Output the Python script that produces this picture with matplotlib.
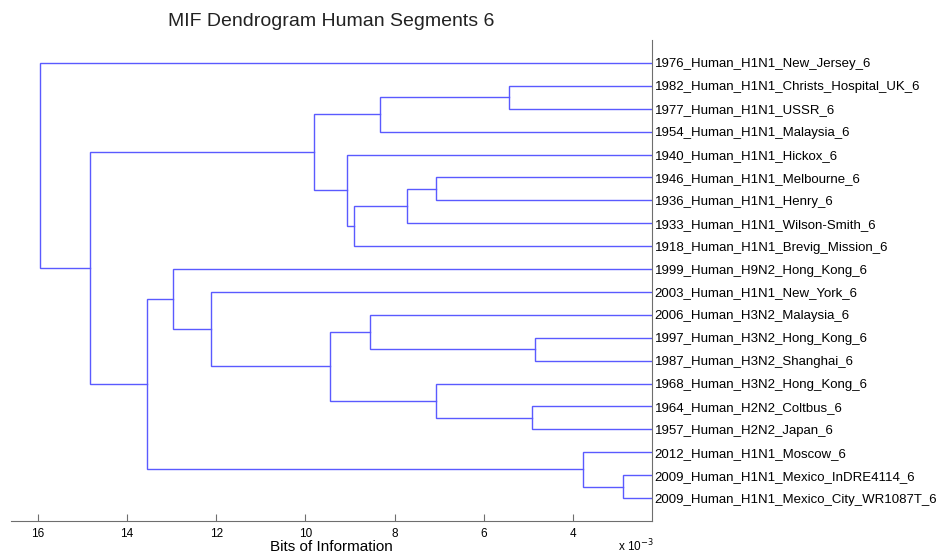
import matplotlib
matplotlib.use("Agg")
import matplotlib.pyplot as plt
from matplotlib.ticker import FixedLocator, FuncFormatter

plt.rcParams["font.family"] = ["Liberation Sans", "DejaVu Sans"]

# ── Data ──────────────────────────────────────────────────────────────────────
LEAVES = [
    "1976_Human_H1N1_New_Jersey_6",
    "1982_Human_H1N1_Christs_Hospital_UK_6",
    "1977_Human_H1N1_USSR_6",
    "1954_Human_H1N1_Malaysia_6",
    "1940_Human_H1N1_Hickox_6",
    "1946_Human_H1N1_Melbourne_6",
    "1936_Human_H1N1_Henry_6",
    "1933_Human_H1N1_Wilson-Smith_6",
    "1918_Human_H1N1_Brevig_Mission_6",
    "1999_Human_H9N2_Hong_Kong_6",
    "2003_Human_H1N1_New_York_6",
    "2006_Human_H3N2_Malaysia_6",
    "1997_Human_H3N2_Hong_Kong_6",
    "1987_Human_H3N2_Shanghai_6",
    "1968_Human_H3N2_Hong_Kong_6",
    "1964_Human_H2N2_Coltbus_6",
    "1957_Human_H2N2_Japan_6",
    "2012_Human_H1N1_Moscow_6",
    "2009_Human_H1N1_Mexico_InDRE4114_6",
    "2009_Human_H1N1_Mexico_City_WR1087T_6",
]

# merge k creates node id len(LEAVES)+k from children MERGE_A[k], MERGE_B[k]
MERGE_A = [18, 17, 12, 15, 1, 5, 14, 25, 24, 11, 27, 4, 29, 28, 10, 9, 35, 33, 0]
MERGE_B = [19, 20, 13, 16, 2, 6, 23, 7, 3, 22, 8, 30, 26, 31, 32, 34, 21, 36, 37]
# merge heights, bits of information (x 1e-3)
MERGE_H = [2.87, 3.77, 4.85, 4.92, 5.43, 7.07, 7.08, 7.73, 8.33, 8.55,
           8.91, 9.07, 9.45, 9.80, 12.11, 12.96, 13.54, 14.84, 15.96]

XTICKS = [16, 14, 12, 10, 8, 6, 4]

# ── Node positions ────────────────────────────────────────────────────────────
n = len(LEAVES)
node_x = [0.0] * n
node_y = [i + 1.0 for i in range(n)]
for a, b, h in zip(MERGE_A, MERGE_B, MERGE_H):
    node_x.append(h * 1e-3)
    node_y.append((node_y[a] + node_y[b]) / 2)

# ── Plot ──────────────────────────────────────────────────────────────────────
fig = plt.figure(figsize=(9.4, 5.54), dpi=100)
ax = fig.add_axes([11 / 940, 1 - 521 / 554, 641 / 940, 481 / 554])

line_color = "#5a5aff"
for a, b, h in zip(MERGE_A, MERGE_B, MERGE_H):
    hx = h * 1e-3
    ax.plot([node_x[a], hx, hx, node_x[b]],
            [node_y[a], node_y[a], node_y[b], node_y[b]],
            color=line_color, lw=1.0, solid_joinstyle="miter")

ax.set_xlim(16.6e-3, 2.23e-3)
ax.set_ylim(n + 1, 0)

for side in ("top", "left"):
    ax.spines[side].set_visible(False)
for side in ("bottom", "right"):
    ax.spines[side].set_color("#6e6e6e")
    ax.spines[side].set_linewidth(0.8)

ax.xaxis.set_major_locator(FixedLocator([t * 1e-3 for t in XTICKS]))
ax.xaxis.set_major_formatter(FuncFormatter(lambda v, _: f"{v * 1e3:.0f}"))
ax.tick_params(axis="x", direction="in", length=5, width=0.8, color="#6e6e6e",
               labelsize=8.5, pad=5)

ax.yaxis.tick_right()
ax.set_yticks(range(1, n + 1))
ax.set_yticklabels(LEAVES)
ax.tick_params(axis="y", length=0, labelsize=9.5, pad=2)

ax.set_xlabel("Bits of Information", fontsize=11, labelpad=0)
ax.set_title("MIF Dendrogram Human Segments 6", fontsize=14, pad=10, color="#222222")
fig.text(618 / 940, 1 - 551 / 554, r"x 10$^{-3}$", fontsize=8.5,
         ha="left", va="baseline")

fig.savefig("out.png", dpi=100)
